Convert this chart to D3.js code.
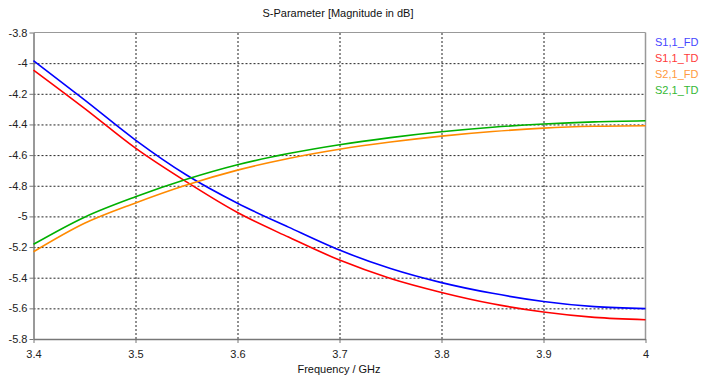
<!DOCTYPE html>
<html>
<head>
<meta charset="utf-8">
<script src="https://cdn.jsdelivr.net/npm/d3@7"></script>
<style>
    body { margin: 0; background: #fff; }
    svg { display: block; font-family: "Liberation Sans", Arial, sans-serif; }
    .grid line { stroke: #222; stroke-dasharray: 2,2; stroke-width: 1; }
    .grid path { display: none; }
</style>
</head>
<body>
<div class="chart"></div>
<script>
// Frequency points (GHz)
const freq = [3.4, 3.45, 3.5, 3.55, 3.6, 3.65, 3.7, 3.75, 3.8, 3.85, 3.9, 3.95, 4.0];

// S-parameter magnitudes in dB
const s11FD = [-3.984, -4.24, -4.502, -4.73, -4.914, -5.07, -5.22, -5.34, -5.432, -5.502, -5.555, -5.589, -5.602];
const s11TD = [-4.045, -4.295, -4.555, -4.775, -4.975, -5.135, -5.285, -5.405, -5.496, -5.57, -5.624, -5.659, -5.674];
const s21FD = [-5.231, -5.045, -4.912, -4.795, -4.698, -4.622, -4.562, -4.515, -4.476, -4.446, -4.424, -4.412, -4.408];
const s21TD = [-5.182, -5.005, -4.872, -4.758, -4.663, -4.59, -4.532, -4.486, -4.448, -4.418, -4.397, -4.383, -4.376];

const seriesNames = ["S1,1_FD", "S1,1_TD", "S2,1_FD", "S2,1_TD"];
const seriesValues = [s11FD, s11TD, s21FD, s21TD];

const xTicks = [3.4, 3.5, 3.6, 3.7, 3.8, 3.9, 4];
const yTicks = [-3.8, -4, -4.2, -4.4, -4.6, -4.8, -5, -5.2, -5.4, -5.6, -5.8];

const lineColors = ["#0000ff", "#ff0000", "#ff8a00", "#00b000"];
const labelColors = ["#4646ff", "#ff3a3a", "#ff9a40", "#35b835"];

const width = 701, height = 377;

const xScale = d3.scaleLinear().domain([3.4, 4]).range([33.5, 645.5]);
const yScale = d3.scaleLinear().domain([-3.8, -5.8]).range([32.5, 339]);

const svg = d3.select(".chart")
    .append("svg")
    .attr("width", width)
    .attr("height", height);

// Gridlines
svg.append("g")
    .attr("class", "grid")
    .attr("transform", "translate(0," + yScale(-5.8) + ")")
    .call(d3.axisBottom(xScale)
        .tickValues(xTicks.slice(1, -1))
        .tickSize(-(yScale(-5.8) - yScale(-3.8)))
        .tickFormat("")
    );

svg.append("g")
    .attr("class", "grid")
    .attr("transform", "translate(" + xScale(3.4) + ",0)")
    .call(d3.axisLeft(yScale)
        .tickValues(yTicks.slice(1, -1))
        .tickSize(-(xScale(4) - xScale(3.4)))
        .tickFormat("")
    );

// Frame: top and right lighter
svg.append("line")
    .attr("x1", xScale(3.4)).attr("x2", xScale(4))
    .attr("y1", yScale(-3.8)).attr("y2", yScale(-3.8))
    .attr("stroke", "#999").attr("stroke-width", 1);
svg.append("line")
    .attr("x1", xScale(4)).attr("x2", xScale(4))
    .attr("y1", yScale(-3.8)).attr("y2", yScale(-5.8))
    .attr("stroke", "#999").attr("stroke-width", 1.5);

// Axes
const xAxis = svg.append("g")
    .attr("transform", "translate(0," + yScale(-5.8) + ")")
    .call(d3.axisBottom(xScale)
        .tickValues(xTicks)
        .tickSize(4)
        .tickSizeOuter(0)
        .tickFormat(d => d3.format("")(d))
    );

const yAxis = svg.append("g")
    .attr("transform", "translate(" + xScale(3.4) + ",0)")
    .call(d3.axisLeft(yScale)
        .tickValues(yTicks)
        .tickSize(4)
        .tickSizeOuter(0)
        .tickFormat(d => d3.format("")(d).replace("\u2212", "-"))
    );

[xAxis, yAxis].forEach(ax => {
    ax.select(".domain").attr("stroke", "#777").attr("stroke-width", 1.5);
    ax.selectAll(".tick line").attr("stroke", "#777");
    ax.selectAll(".tick text")
        .attr("fill", "#222")
        .style("font-size", "11px")
        .style("font-family", "'Liberation Sans', Arial, sans-serif");
});
xAxis.selectAll(".tick text").attr("dy", "1.1em");
yAxis.selectAll(".tick text").attr("x", -6);

// Lines
const line = d3.line()
    .x((d, i) => xScale(freq[i]))
    .y(d => yScale(d))
    .curve(d3.curveMonotoneX);

seriesValues.forEach((vals, k) => {
    svg.append("path")
        .datum(vals)
        .attr("fill", "none")
        .attr("stroke", lineColors[k])
        .attr("stroke-width", 1.6)
        .attr("d", line);
});

// Title
svg.append("text")
    .attr("x", 338)
    .attr("y", 17)
    .attr("text-anchor", "middle")
    .attr("fill", "#111")
    .style("font-size", "11px")
    .text("S-Parameter [Magnitude in dB]");

// X axis title
svg.append("text")
    .attr("x", 339)
    .attr("y", 373)
    .attr("text-anchor", "middle")
    .attr("fill", "#111")
    .style("font-size", "11px")
    .text("Frequency / GHz");

// Legend
const legend = svg.append("g")
    .attr("transform", "translate(655,42)");

seriesNames.forEach((name, k) => {
    legend.append("text")
        .attr("x", 0)
        .attr("y", k * 16)
        .attr("dy", ".35em")
        .attr("fill", labelColors[k])
        .style("font-size", "11px")
        .text(name);
});
</script>
</body>
</html>
